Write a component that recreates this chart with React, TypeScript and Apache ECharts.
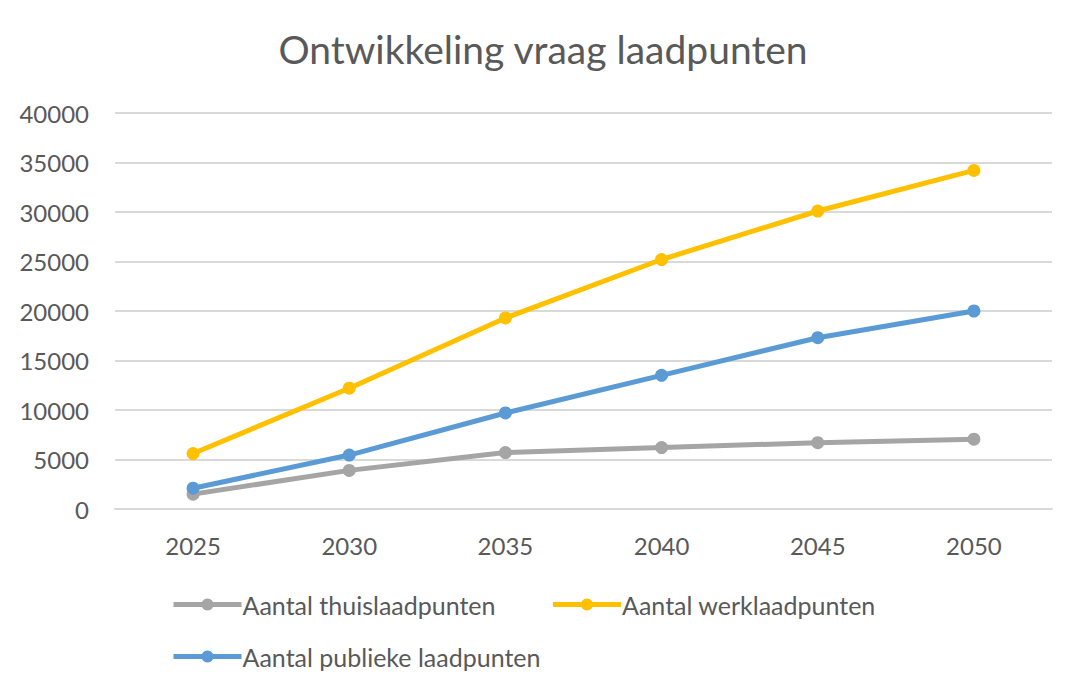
import React, { useEffect, useRef } from "react";
import * as echarts from "echarts";

const years = ["2025", "2030", "2035", "2040", "2045", "2050"];
const thuis = [1500, 3900, 5700, 6200, 6700, 7050];
const werk = [5600, 12200, 19300, 25200, 30100, 34200];
const publiek = [2100, 5450, 9700, 13500, 17300, 20000];
const seriesNames = ["Aantal thuislaadpunten", "Aantal werklaadpunten", "Aantal publieke laadpunten"];
const colors = ["#A5A5A5", "#FFC000", "#5B9BD5"];

const FONT = "Lato, 'Open Sans', sans-serif";
const TXT = "#595959";

export default function App() {
  const ref = useRef<HTMLDivElement>(null);
  useEffect(() => {
    if (!ref.current) return;
    const chart = echarts.init(ref.current, null, { renderer: "svg" });
    const mk = (name: string, data: number[], color: string) => ({
      name,
      type: "line",
      data,
      color,
      symbol: "circle",
      symbolSize: 13,
      lineStyle: { width: 5, color },
      itemStyle: { color },
    });
    const legendText = { fontFamily: FONT, fontSize: 25, color: TXT, padding: [0, 0, 0, -4] };
    chart.setOption({
      animation: false,
      textStyle: { fontFamily: FONT },
      title: {
        text: "Ontwikkeling vraag laadpunten",
        left: "center",
        top: 24,
        textStyle: { fontFamily: FONT, fontSize: 39, fontWeight: "normal", color: TXT },
      },
      legend: [
        {
          data: [seriesNames[0], seriesNames[1]],
          left: 166,
          top: 587,
          itemWidth: 68,
          itemHeight: 15,
          itemGap: 55,
          lineStyle: { width: 5 },
          textStyle: legendText,
        },
        {
          data: [seriesNames[2]],
          left: 166,
          top: 639,
          itemWidth: 68,
          itemHeight: 15,
          lineStyle: { width: 5 },
          textStyle: legendText,
        },
      ],
      grid: { left: 115, right: 34, top: 113, bottom: 188, containLabel: false },
      xAxis: {
        type: "category",
        data: years,
        boundaryGap: true,
        axisLine: { show: true, lineStyle: { color: "#D9D9D9", width: 2 } },
        axisTick: { show: false },
        axisLabel: { fontFamily: FONT, fontSize: 24, color: TXT, margin: 24 },
      },
      yAxis: {
        type: "value",
        min: 0,
        max: 40000,
        interval: 5000,
        axisLine: { show: false },
        axisTick: { show: false },
        splitLine: { lineStyle: { color: "#D9D9D9", width: 2 } },
        axisLabel: { fontFamily: FONT, fontSize: 24, color: TXT, margin: 26, formatter: (v: number) => String(v) },
      },
      series: [
        mk(seriesNames[0], thuis, colors[0]),
        mk(seriesNames[1], werk, colors[1]),
        mk(seriesNames[2], publiek, colors[2]),
      ],
    });
    return () => chart.dispose();
  }, []);
  return <div ref={ref} style={{ width: 1086, height: 697, position: "absolute", left: 0, top: 0, background: "#fff" }} />;
}
